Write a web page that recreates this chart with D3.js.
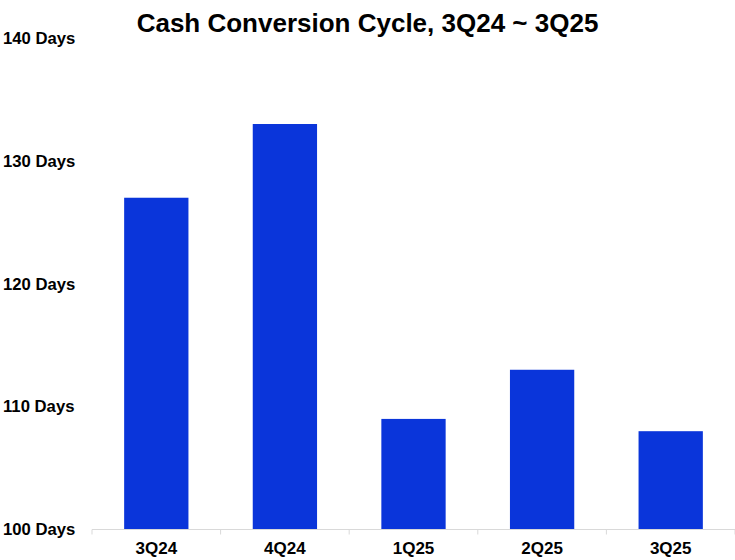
<!DOCTYPE html>
<html>
<head>
<meta charset="utf-8">
<script src="https://cdn.jsdelivr.net/npm/d3@7"></script>
<style>
  html, body { margin: 0; padding: 0; background: #fff; }
  svg { display: block; font-family: "Liberation Sans", Arial, sans-serif; }
</style>
</head>
<body>
<svg id="chart" width="735" height="560"></svg>
<script>
const title = "Cash Conversion Cycle, 3Q24 ~ 3Q25";
const categories = ["3Q24", "4Q24", "1Q25", "2Q25", "3Q25"];
const values = [127, 133, 109, 113, 108];
const yTicks = [100, 110, 120, 130, 140];
const yTickSuffix = " Days";

const W = 735, H = 560;
const svg = d3.select("#chart");

const x = d3.scaleBand().domain(categories).range([92, 735]).paddingInner(0.5).paddingOuter(0.25);
const y = d3.scaleLinear().domain([100, 140]).range([529.5, 38]);

// title
svg.append("text")
  .attr("x", 367.5).attr("y", 32)
  .attr("text-anchor", "middle")
  .attr("font-size", 26).attr("font-weight", "bold").attr("fill", "#000")
  .text(title);

// bars
svg.append("g").selectAll("rect")
  .data(categories.map((c, i) => ({c, v: values[i]})))
  .join("rect")
  .attr("x", d => x(d.c))
  .attr("width", x.bandwidth())
  .attr("y", d => y(d.v))
  .attr("height", d => y(100) - y(d.v))
  .attr("fill", "#0A35DA");

// y labels
svg.append("g").selectAll("text")
  .data(yTicks)
  .join("text")
  .attr("x", 3)
  .attr("y", d => y(d))
  .attr("dy", "0.35em")
  .attr("font-size", 16.7).attr("font-weight", "bold").attr("fill", "#000")
  .text(d => d + yTickSuffix);

// x axis line and boundary ticks
const axisY = y(100);
const step = x.step();
const left = 92;
svg.append("line")
  .attr("x1", left).attr("x2", W)
  .attr("y1", axisY).attr("y2", axisY)
  .attr("stroke", "#d9d9d9").attr("stroke-width", 1.2);
svg.append("g").selectAll("line")
  .data(d3.range(categories.length + 1))
  .join("line")
  .attr("x1", i => left + i * step).attr("x2", i => left + i * step)
  .attr("y1", axisY).attr("y2", axisY + 5)
  .attr("stroke", "#d9d9d9").attr("stroke-width", 1);

// x labels
svg.append("g").selectAll("text")
  .data(categories)
  .join("text")
  .attr("x", d => x(d) + x.bandwidth() / 2)
  .attr("y", 554)
  .attr("text-anchor", "middle")
  .attr("font-size", 17).attr("font-weight", "bold").attr("fill", "#000")
  .text(d => d);
</script>
</body>
</html>
